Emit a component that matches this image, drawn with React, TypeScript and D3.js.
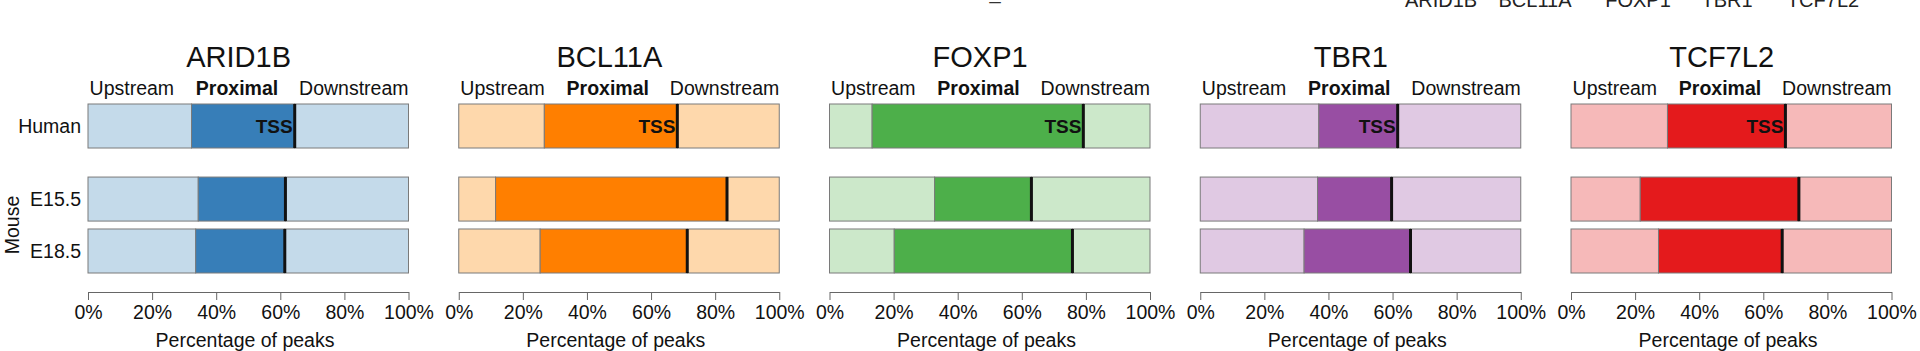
// @ts-nocheck
import { useEffect, useRef } from 'react';
import * as d3 from 'd3';

// genes shown in each panel
const genes = ['ARID1B', 'BCL11A', 'FOXP1', 'TBR1', 'TCF7L2'];
const rows = ['Human', 'E15.5', 'E18.5'];
const regionLabels = ['Upstream', 'Proximal', 'Downstream'];
const ticks = [0, 20, 40, 60, 80, 100];

// percentage where the proximal region starts (end of upstream), per gene and row
const proximalStart = [
  [32.3, 34.4, 33.6],
  [26.7, 11.5, 25.4],
  [13.3, 32.8, 20.2],
  [37.0, 36.6, 32.4],
  [30.1, 21.6, 27.3]
];

// percentage at the TSS (end of proximal, start of downstream)
const tssPos = [
  [64.5, 61.6, 61.4],
  [68.2, 83.7, 71.3],
  [79.2, 63.0, 75.8],
  [61.6, 59.7, 65.6],
  [66.9, 71.1, 65.9]
];

const darkColors = ['#377EB8', '#FF7F00', '#4DAF4A', '#984EA3', '#E41A1C'];
const lightColors = ['#C4DAEA', '#FED8AC', '#CCE8CA', '#E0C9E3', '#F6B9B9'];

// R barplot style spacing before each row (in bar-height units)
const rowSpace = [0, 0.66, 0.18];

const App = () => {
  const svgRef = useRef();

  useEffect(() => {
    const W = 1920;
    const H = 351;
    const svg = d3.select(svgRef.current);
    svg.selectAll('*').remove();
    svg.attr('width', W).attr('height', H);

    const font = '"Liberation Sans", Arial, Helvetica, sans-serif';
    const fs = 19.5;

    // row positions
    let acc = 0;
    const rowUnits = rows.map((r, i) => {
      acc += rowSpace[i];
      const start = acc;
      acc += 1;
      return start;
    });
    const y = d3.scaleLinear().domain([0, acc]).range([104, 273]);
    const barH = y(1) - y(0);

    const panelLeft = d3.scaleLinear().domain([0, genes.length - 1]).range([88, 1571]);
    const panelW = 320.5;

    genes.forEach((gene, gi) => {
      const left = panelLeft(gi);
      const x = d3.scaleLinear().domain([0, 100]).range([left, left + panelW]);
      const g = svg.append('g');

      // title
      g.append('text')
        .attr('x', x(47))
        .attr('y', 67)
        .attr('text-anchor', 'middle')
        .style('font-family', font)
        .style('font-size', '29px')
        .attr('fill', '#111')
        .text(gene);

      // region labels
      g.append('text').attr('x', x(0.5)).attr('y', 95).attr('text-anchor', 'start')
        .style('font-family', font).style('font-size', fs + 'px').attr('fill', '#111')
        .text(regionLabels[0]);
      g.append('text').attr('x', x(46.5)).attr('y', 95).attr('text-anchor', 'middle')
        .style('font-family', font).style('font-size', fs + 'px').style('font-weight', 'bold')
        .attr('fill', '#111').text(regionLabels[1]);
      g.append('text').attr('x', x(100)).attr('y', 95).attr('text-anchor', 'end')
        .style('font-family', font).style('font-size', fs + 'px').attr('fill', '#111')
        .text(regionLabels[2]);

      rows.forEach((row, ri) => {
        const top = y(rowUnits[ri]);
        const ps = proximalStart[gi][ri];
        const tss = tssPos[gi][ri];
        const segs = [
          [0, ps, lightColors[gi]],
          [ps, tss, darkColors[gi]],
          [tss, 100, lightColors[gi]]
        ];
        segs.forEach(([a, b, c]) => {
          g.append('rect')
            .attr('x', x(a))
            .attr('y', top)
            .attr('width', x(b) - x(a))
            .attr('height', barH)
            .attr('fill', c)
            .attr('stroke', '#7a7a7a')
            .attr('stroke-width', 1);
        });
        // TSS line
        g.append('line')
          .attr('x1', x(tss)).attr('x2', x(tss))
          .attr('y1', top).attr('y2', top + barH)
          .attr('stroke', '#111')
          .attr('stroke-width', 3);

        if (ri === 0) {
          g.append('text')
            .attr('x', x(tss) - 2)
            .attr('y', top + barH / 2 + 7)
            .attr('text-anchor', 'end')
            .style('font-family', font)
            .style('font-size', '19px')
            .style('font-weight', 'bold')
            .attr('fill', '#111')
            .text('TSS');
        }

        if (gi === 0) {
          g.append('text')
            .attr('x', left - 7)
            .attr('y', top + barH / 2 + 7)
            .attr('text-anchor', 'end')
            .style('font-family', font)
            .style('font-size', fs + 'px')
            .attr('fill', '#111')
            .text(row);
        }
      });

      // axis
      const axis = g.append('g')
        .attr('transform', 'translate(0,292)')
        .call(
          d3.axisBottom(x)
            .tickValues(ticks)
            .tickFormat(d => d + '%')
            .tickSize(8)
            .tickSizeOuter(0)
            .tickPadding(5)
        );
      axis.select('.domain').attr('stroke', '#666');
      axis.selectAll('.tick line').attr('stroke', '#666');
      axis.selectAll('.tick text')
        .style('font-family', font)
        .style('font-size', fs + 'px')
        .attr('fill', '#111');

      g.append('text')
        .attr('x', x(49))
        .attr('y', 347)
        .attr('text-anchor', 'middle')
        .style('font-family', font)
        .style('font-size', fs + 'px')
        .attr('fill', '#111')
        .text('Percentage of peaks');
    });

    // Mouse group label
    svg.append('text')
      .attr('transform', `translate(19,${(y(rowUnits[1]) + y(rowUnits[2]) + barH) / 2}) rotate(-90)`)
      .attr('text-anchor', 'middle')
      .style('font-family', font)
      .style('font-size', fs + 'px')
      .attr('fill', '#111')
      .text('Mouse');

    // cropped legend text at the very top
    const legendX = [1441, 1535, 1638, 1727, 1823];
    genes.forEach((gene, i) => {
      svg.append('text')
        .attr('x', legendX[i])
        .attr('y', 7)
        .attr('text-anchor', 'middle')
        .style('font-family', font)
        .style('font-size', '20px')
        .attr('fill', '#222')
        .text(gene);
    });
    svg.append('text')
      .attr('x', 995)
      .attr('y', -1)
      .attr('text-anchor', 'middle')
      .style('font-family', font)
      .style('font-size', '20px')
      .attr('fill', '#333')
      .text('_');
  }, []);

  return (
    <div style={{ position: 'absolute', left: 0, top: 0 }}>
      <svg ref={svgRef} style={{ display: 'block', background: '#fff' }}></svg>
    </div>
  );
};

export default App;
